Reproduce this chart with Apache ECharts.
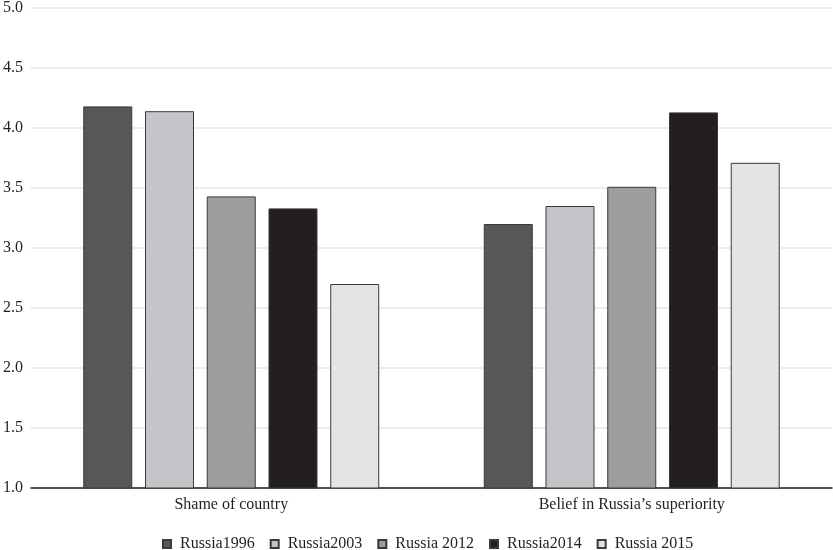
<!DOCTYPE html>
<html><head><meta charset="utf-8">
<script src="https://cdn.jsdelivr.net/npm/echarts@6/dist/echarts.min.js"></script>
<style>html,body{margin:0;padding:0;background:#fff}#c{width:833px;height:550px}</style>
</head><body><div id="c"></div>
<script>
const categories = ['Shame of country', 'Belief in Russia\u2019s superiority'];
const seriesNames = ['Russia1996', 'Russia2003', 'Russia 2012', 'Russia2014', 'Russia 2015'];
const russia1996 = [4.18, 3.20];
const russia2003 = [4.14, 3.35];
const russia2012 = [3.43, 3.51];
const russia2014 = [3.33, 4.13];
const russia2015 = [2.70, 3.71];
const colors = ['#575757', '#c5c5c9', '#9c9d9f', '#231f20', '#e4e4e4'];
const allData = [russia1996, russia2003, russia2012, russia2014, russia2015];
const font = '"Liberation Serif", "Times New Roman", serif';
const chart = echarts.init(document.getElementById('c'));
chart.setOption({
  animation: false,
  textStyle: { fontFamily: font },
  grid: { left: 30, right: 1, top: 8, bottom: 62, containLabel: false },
  legend: {
    left: 157, top: 531, itemWidth: 8, itemHeight: 8, itemGap: 15, icon: 'rect',
    textStyle: { fontFamily: font, fontSize: 16, color: '#231f20', padding: [0, 0, 0, 4] },
    data: seriesNames
  },
  xAxis: {
    type: 'category', data: categories,
    axisLine: { lineStyle: { color: '#231f20', width: 1.5 } },
    axisTick: { show: false },
    axisLabel: { fontFamily: font, fontSize: 16, color: '#231f20', margin: 9 }
  },
  yAxis: {
    type: 'value', min: 1, max: 5, interval: 0.5,
    axisLine: { show: false }, axisTick: { show: false },
    axisLabel: { fontFamily: font, fontSize: 16, color: '#231f20', margin: 8,
      formatter: v => v.toFixed(1) },
    splitLine: { lineStyle: { color: '#e6e6e6', width: 1.5 } }
  },
  series: seriesNames.map((n, i) => ({
    name: n, type: 'bar', data: allData[i], barWidth: 49, barGap: '26%',
    itemStyle: { color: colors[i], borderColor: '#3a3a3a', borderWidth: 1 }
  }))
});
</script></body></html>
